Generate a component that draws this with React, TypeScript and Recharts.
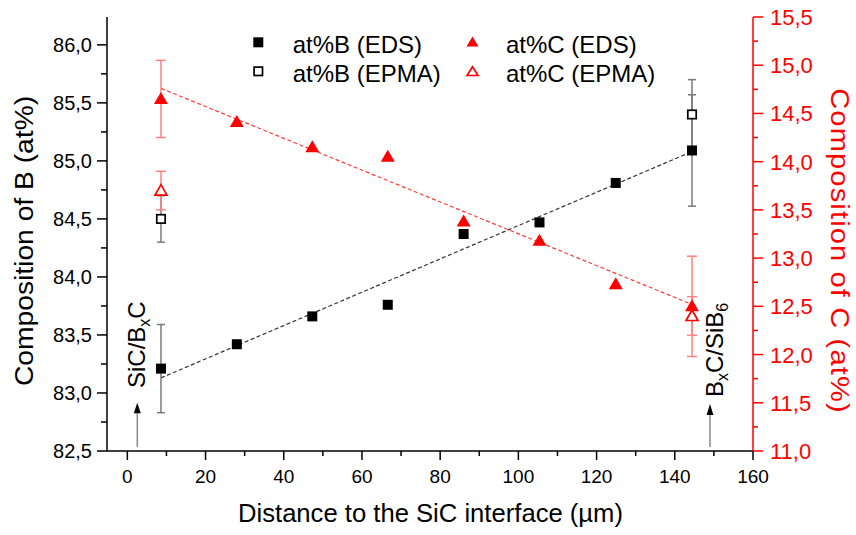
import React from 'react';
import { ComposedChart, Scatter, Line, XAxis, YAxis, ErrorBar } from 'recharts';

// ---------- data ----------
const distance = [8.6, 28.0, 47.3, 66.6, 86.0, 105.4, 124.9, 144.4];
const boronEds = [83.21, 83.42, 83.66, 83.76, 84.37, 84.47, 84.81, 85.09];
const boronEdsErr: (number | null)[] = [0.38, null, null, null, null, null, null, 0.48];
const carbonEds = [14.65, 14.41, 14.15, 14.05, 13.38, 13.18, 12.73, 12.5];
const carbonEdsErr: (number | null)[] = [0.4, null, null, null, null, null, null, 0.52];

const epmaDistance = [8.6, 144.4];
const boronEpma = [84.5, 85.4];
const boronEpmaErr = [0.2, 0.3];
const carbonEpma = [13.7, 12.4];
const carbonEpmaErr = [0.2, 0.2];

const fitDistance = [8.6, 144.4];
const boronFit = [83.13, 85.08];
const carbonFit = [14.76, 12.52];

const xTicks = [0, 10, 20, 30, 40, 50, 60, 70, 80, 90, 100, 110, 120, 130, 140, 150, 160];
const leftTicks = [82.5, 82.75, 83.0, 83.25, 83.5, 83.75, 84.0, 84.25, 84.5, 84.75, 85.0, 85.25, 85.5, 85.75, 86.0];
const rightTicks = [11.0, 11.25, 11.5, 11.75, 12.0, 12.25, 12.5, 12.75, 13.0, 13.25, 13.5, 13.75, 14.0, 14.25, 14.5, 14.75, 15.0, 15.25, 15.5];

// ---------- rows ----------
const rows = (xs: number[], ys: number[], errs?: (number | null)[]) =>
  xs.map((x, i) => ({ x, y: ys[i], err: errs ? errs[i] : null }));

const boronEdsRows = rows(distance, boronEds, boronEdsErr);
const boronEdsErrRows = boronEdsRows.filter((r) => r.err != null);
const carbonEdsRows = rows(distance, carbonEds, carbonEdsErr);
const carbonEdsErrRows = carbonEdsRows.filter((r) => r.err != null);
const boronEpmaRows = rows(epmaDistance, boronEpma, boronEpmaErr);
const carbonEpmaRows = rows(epmaDistance, carbonEpma, carbonEpmaErr);
const boronFitRows = rows(fitDistance, boronFit);
const carbonFitRows = rows(fitDistance, carbonFit);

const FONT = "'Liberation Sans', Arial, Helvetica, sans-serif";
const RED = '#ff0000';
const W = 856;
const H = 535;

const fmt = (v: number) => v.toFixed(1).replace('.', ',');
const isHalf = (v: number) => Math.abs(v * 2 - Math.round(v * 2)) < 1e-6;

// ---------- ticks ----------
const BottomTick = (p: any) => {
  const { x, y, payload } = p;
  const v = payload.value;
  const major = v % 20 === 0;
  return (
    <g>
      <line x1={x} x2={x} y1={y} y2={y + (major ? 9 : 5)} stroke="#000" strokeWidth={1.5} />
      {major && (
        <text x={x} y={y + 32} textAnchor="middle" fontSize={19} fontFamily={FONT} fill="#000">
          {v}
        </text>
      )}
    </g>
  );
};

const TopTick = (p: any) => {
  const { x, y, payload } = p;
  const major = payload.value % 20 === 0;
  return <line x1={x} x2={x} y1={y} y2={y + (major ? 8 : 4)} stroke="#000" strokeWidth={1.5} />;
};

const LeftTick = (p: any) => {
  const { x, y, payload } = p;
  const v = payload.value;
  const major = isHalf(v);
  return (
    <g>
      <line x1={x} x2={x - (major ? 10 : 6)} y1={y} y2={y} stroke="#000" strokeWidth={1.5} />
      {major && (
        <text x={x - 15} y={y + 7} textAnchor="end" fontSize={20} fontFamily={FONT} fill="#000">
          {fmt(v)}
        </text>
      )}
    </g>
  );
};

const RightTick = (p: any) => {
  const { x, y, payload } = p;
  const v = payload.value;
  const major = isHalf(v);
  return (
    <g>
      <line x1={x} x2={x + (major ? 10 : 5)} y1={y} y2={y} stroke={RED} strokeWidth={1.5} />
      {major && (
        <text x={x + 17} y={y + 8} textAnchor="start" fontSize={22} fontFamily={FONT} fill={RED}>
          {fmt(v)}
        </text>
      )}
    </g>
  );
};

// ---------- markers ----------
const FilledSquare = (p: any) => {
  const { cx, cy } = p;
  if (cx == null || cy == null) return <g />;
  return <rect x={cx - 5} y={cy - 5} width={10} height={10} fill="#000" />;
};
const OpenSquare = (p: any) => {
  const { cx, cy } = p;
  if (cx == null || cy == null) return <g />;
  return <rect x={cx - 4.2} y={cy - 4.2} width={8.4} height={8.4} fill="#fff" stroke="#000" strokeWidth={1.7} />;
};
const FilledTriangle = (p: any) => {
  const { cx, cy } = p;
  if (cx == null || cy == null) return <g />;
  return <polygon points={`${cx},${cy - 7} ${cx - 7},${cy + 5} ${cx + 7},${cy + 5}`} fill={RED} />;
};
const OpenTriangle = (p: any) => {
  const { cx, cy } = p;
  if (cx == null || cy == null) return <g />;
  return (
    <polygon
      points={`${cx},${cy - 6} ${cx - 6},${cy + 4.5} ${cx + 6},${cy + 4.5}`}
      fill="#fff"
      stroke={RED}
      strokeWidth={1.7}
    />
  );
};
const Nothing = () => <g />;

// ---------- overlay (titles, legend, annotations) ----------
const Overlay = () => (
  <svg width={W} height={H} style={{ position: 'absolute', left: 0, top: 0, pointerEvents: 'none' }}>
    <g fontFamily={FONT}>
      {/* axis titles */}
      <text x={430.5} y={521.5} textAnchor="middle" fontSize={25} fill="#000" textLength={385} lengthAdjust="spacingAndGlyphs">
        Distance to the SiC interface (µm)
      </text>
      <text
        transform="translate(33,241) rotate(-90) scale(1.13,1)"
        textAnchor="middle"
        fontSize={25}
        fill="#000"
      >
        Composition of B (at%)
      </text>
      <text
        transform="translate(831,251) rotate(90) scale(1.12,1)"
        textAnchor="middle"
        fontSize={26}
        letterSpacing={1}
        fill={RED}
      >
        Composition of C (at%)
      </text>

      {/* legend */}
      <rect x={253.3} y={37.3} width={10} height={10} fill="#000" />
      <text x={292.7} y={52.7} fontSize={24} fill="#000">at%B (EDS)</text>
      <rect x={254.1} y={67.1} width={8.4} height={8.4} fill="#fff" stroke="#000" strokeWidth={1.7} />
      <text x={292.7} y={81.7} fontSize={24} fill="#000">at%B (EPMA)</text>
      <polygon points="472.5,36.5 466.5,46.5 478.5,46.5" fill={RED} />
      <text x={506} y={52.7} fontSize={24} fill="#000">at%C (EDS)</text>
      <polygon points="472.5,66.8 467,75.5 478,75.5" fill="#fff" stroke={RED} strokeWidth={1.7} />
      <text x={506} y={81.7} fontSize={24} fill="#000">at%C (EPMA)</text>

      {/* annotations */}
      <line x1={137.3} x2={137.3} y1={447} y2={411} stroke="#8a8a8a" strokeWidth={1.5} />
      <polygon points="137.3,402.7 133.8,413.3 140.8,413.3" fill="#000" />
      <text transform="translate(145,388) rotate(-90)" fontSize={24} fill="#000">
        SiC/B
        <tspan fontSize={16} dy={5}>x</tspan>
        <tspan dy={-5}>C</tspan>
      </text>

      <line x1={710} x2={710} y1={447} y2={412} stroke="#8a8a8a" strokeWidth={1.5} />
      <polygon points="710,404 706.6,415 713.4,415" fill="#000" />
      <text transform="translate(722.7,397) rotate(-90)" fontSize={24} fill="#000">
        B
        <tspan fontSize={16} dy={5}>x</tspan>
        <tspan dy={-5}>C/SiB</tspan>
        <tspan fontSize={16} dy={5}>6</tspan>
      </text>
    </g>
  </svg>
);

export default function App() {
  return (
    <div style={{ position: 'absolute', left: 0, top: 0, width: W, height: H, background: '#fff' }}>
      <ComposedChart width={W} height={H} margin={{ top: 17, right: 0, bottom: 0, left: 0 }}>
        <XAxis
          xAxisId="bottom"
          type="number"
          dataKey="x"
          domain={[-5.2, 160]}
          allowDataOverflow
          ticks={xTicks}
          interval={0}
          height={84}
          tickSize={0}
          tickMargin={0}
          tickLine={false}
          tick={<BottomTick />}
          axisLine={{ stroke: '#000', strokeWidth: 1.5 }}
        />
        <XAxis
          xAxisId="top"
          orientation="top"
          type="number"
          dataKey="x"
          domain={[-5.2, 160]}
          allowDataOverflow
          ticks={xTicks}
          interval={0}
          height={0}
          tickSize={0}
          tickMargin={0}
          tickLine={false}
          tick={<TopTick />}
          axisLine={{ stroke: '#000', strokeWidth: 1.5 }}
        />
        <YAxis
          yAxisId="left"
          type="number"
          dataKey="y"
          domain={[82.5, 86.24]}
          allowDataOverflow
          ticks={leftTicks}
          interval={0}
          width={107}
          tickSize={0}
          tickMargin={0}
          tickLine={false}
          tick={<LeftTick />}
          axisLine={{ stroke: '#000', strokeWidth: 1.5 }}
        />
        <YAxis
          yAxisId="right"
          orientation="right"
          type="number"
          dataKey="y"
          domain={[11, 15.5]}
          allowDataOverflow
          ticks={rightTicks}
          interval={0}
          width={103}
          tickSize={0}
          tickMargin={0}
          tickLine={false}
          tick={<RightTick />}
          axisLine={{ stroke: RED, strokeWidth: 1.5 }}
        />

        <Line
          xAxisId="bottom"
          yAxisId="left"
          data={boronFitRows}
          dataKey="y"
          stroke="#333"
          strokeWidth={1.2}
          strokeDasharray="4 2.5"
          dot={false}
          activeDot={false}
          isAnimationActive={false}
          legendType="none"
        />
        <Line
          xAxisId="bottom"
          yAxisId="right"
          data={carbonFitRows}
          dataKey="y"
          stroke="#ff3b3b"
          strokeWidth={1.2}
          strokeDasharray="4 2.5"
          dot={false}
          activeDot={false}
          isAnimationActive={false}
          legendType="none"
        />

        <Scatter
          xAxisId="bottom"
          yAxisId="left"
          data={boronEdsErrRows}
          dataKey="y"
          shape={Nothing}
          isAnimationActive={false}
          legendType="none"
        >
          <ErrorBar dataKey="err" direction="y" width={4} stroke="#7a7a7a" strokeWidth={1.5} />
        </Scatter>
        <Scatter
          xAxisId="bottom"
          yAxisId="left"
          data={boronEpmaRows}
          dataKey="y"
          shape={OpenSquare}
          isAnimationActive={false}
          legendType="none"
        >
          <ErrorBar dataKey="err" direction="y" width={4} stroke="#7a7a7a" strokeWidth={1.5} />
        </Scatter>
        <Scatter
          xAxisId="bottom"
          yAxisId="left"
          data={boronEdsRows}
          dataKey="y"
          shape={FilledSquare}
          isAnimationActive={false}
          legendType="none"
        />

        <Scatter
          xAxisId="bottom"
          yAxisId="right"
          data={carbonEdsErrRows}
          dataKey="y"
          shape={Nothing}
          isAnimationActive={false}
          legendType="none"
        >
          <ErrorBar dataKey="err" direction="y" width={5} stroke="#ff8080" strokeWidth={1.5} />
        </Scatter>
        <Scatter
          xAxisId="bottom"
          yAxisId="right"
          data={carbonEpmaRows}
          dataKey="y"
          shape={OpenTriangle}
          isAnimationActive={false}
          legendType="none"
        >
          <ErrorBar dataKey="err" direction="y" width={5} stroke="#ff8080" strokeWidth={1.5} />
        </Scatter>
        <Scatter
          xAxisId="bottom"
          yAxisId="right"
          data={carbonEdsRows}
          dataKey="y"
          shape={FilledTriangle}
          isAnimationActive={false}
          legendType="none"
        />
      </ComposedChart>
      <Overlay />
    </div>
  );
}
